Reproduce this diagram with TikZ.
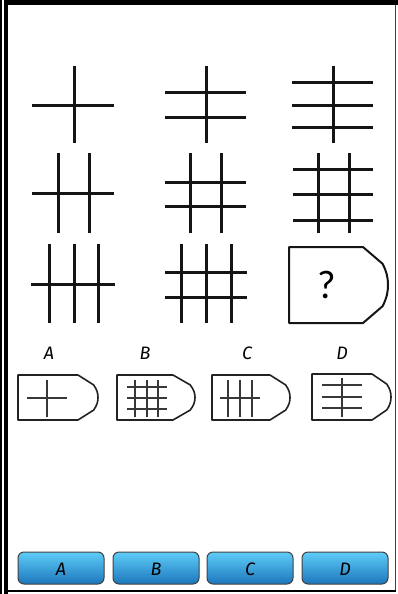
\documentclass[tikz,border=0pt]{standalone}
\usepackage{fontspec}
\newfontfamily\qfont{Carlito}
\newfontfamily\hfont{Fira Sans}
\usetikzlibrary{calc}
\definecolor{ink}{HTML}{151515}
\definecolor{boxline}{HTML}{222222}
\definecolor{btntop}{RGB}{95,205,248}
\definecolor{btnbot}{RGB}{28,118,188}
\tikzset{
  bigline/.style={draw=ink,line width=3pt},
  smallline/.style={draw=ink!85,line width=1.3pt},
  bigshape/.style={draw=ink,line width=2pt,line join=round},
  smallshape/.style={draw=boxline,line width=1.6pt,line join=round},
  optlabel/.style={font=\hfont\itshape\fontsize{18}{18}\selectfont,inner sep=0pt},
  btn/.style={rounded corners=6pt,draw=black!75,line width=1pt,top color=btntop,bottom color=btnbot},
  btnlabel/.style={font=\hfont\itshape\fontsize{18}{18}\selectfont,inner sep=0pt}
}
% #1 style, #2 left, #3 corner x, #4 tip x, #5 top y, #6 bottom y
\newcommand\pentshape[6]{%
  \draw[#1] (#2,#5) -- (#3,#5)
   -- ({#4-0.22*(#4-#3)},{#5+0.22*(#6-#5)})
   .. controls ({#4-0.06*(#4-#3)},{#5+0.32*(#6-#5)}) and (#4,{#5+0.4*(#6-#5)}) .. (#4,{(#5+#6)/2})
   .. controls (#4,{#5+0.6*(#6-#5)}) and ({#4-0.06*(#4-#3)},{#5+0.68*(#6-#5)}) .. ({#4-0.22*(#4-#3)},{#5+0.78*(#6-#5)})
   -- (#3,#6) -- (#2,#6) -- cycle;}
\begin{document}
\begin{tikzpicture}[x=1pt,y=-1pt]
\useasboundingbox (0,0) rectangle (398,594);
\fill[white] (0,0) rectangle (398,594);
% frame
\draw[black,line width=1.5pt] (0.75,0) -- (0.75,594);
\draw[black,line width=4pt] (6,0) -- (6,594);
\draw[black,line width=5pt] (4,2.5) -- (398,2.5);
\draw[black!75,line width=1.5pt] (395.5,5) -- (395.5,591);
\draw[black,line width=1.5pt] (8,591) -- (396,591);

% row 1
\draw[bigline] (32,105) -- (114,105) (74,66) -- (74,143);
\draw[bigline] (165,92) -- (246,92) (165,117) -- (246,117) (206,66) -- (206,143);
\draw[bigline] (292,82) -- (373,82) (292,105) -- (373,105) (292,127) -- (373,127) (333,66) -- (333,143);
% row 2
\draw[bigline] (32,193) -- (114,193) (58,153) -- (58,233) (89,153) -- (89,233);
\draw[bigline] (165,182) -- (246,182) (165,206) -- (246,206) (190,153) -- (190,233) (221,153) -- (221,233);
\draw[bigline] (293,169) -- (373,169) (293,194) -- (373,194) (293,220) -- (373,220) (318,153) -- (318,233) (349,153) -- (349,233);
% row 3
\draw[bigline] (31,284) -- (115,284) (49,244) -- (49,323) (74,244) -- (74,323) (98,244) -- (98,323);
\draw[bigline] (165,272) -- (247,272) (165,297) -- (247,297) (181,244) -- (181,323) (206,244) -- (206,323) (231,244) -- (231,323);
\pentshape{bigshape}{289}{363}{388}{247}{323}
\node[font=\qfont\fontsize{40}{40}\selectfont,inner sep=0pt] (q) at (327,285) {?};

% option labels
\node[optlabel] (la) at (49,353) {A};
\node[optlabel] (lb) at (145,353) {B};
\node[optlabel] (lc) at (247,353) {C};
\node[optlabel] (ld) at (342,353) {D};

% option A
\pentshape{smallshape}{18}{78}{98}{375}{420}
\draw[smallline] (27,398) -- (67,398) (47,380) -- (47,417);
% option B
\pentshape{smallshape}{117}{173}{195}{375}{420}
\draw[smallline] (127,387) -- (167,387) (127,398) -- (167,398) (127,409) -- (167,409)
  (135,380) -- (135,417) (147,380) -- (147,417) (158,380) -- (158,417);
% option C
\pentshape{smallshape}{212}{270}{290}{375}{420}
\draw[smallline] (220,398) -- (260,398) (228,380) -- (228,417) (240,380) -- (240,417) (252,380) -- (252,417);
% option D
\pentshape{smallshape}{312}{372}{391}{374}{420}
\draw[smallline] (322,385) -- (362,385) (322,397) -- (362,397) (322,408) -- (362,408) (342,378) -- (342,417);

% buttons
\draw[btn] (18,552) rectangle (104,584);
\node[btnlabel] (ba) at (61,569) {A};
\draw[btn] (113,552) rectangle (199,584);
\node[btnlabel] (bb) at (156,569) {B};
\draw[btn] (207,552) rectangle (293,584);
\node[btnlabel] (bc) at (250,569) {C};
\draw[btn] (302,552) rectangle (388,584);
\node[btnlabel] (bd) at (345,569) {D};
\end{tikzpicture}
\end{document}
